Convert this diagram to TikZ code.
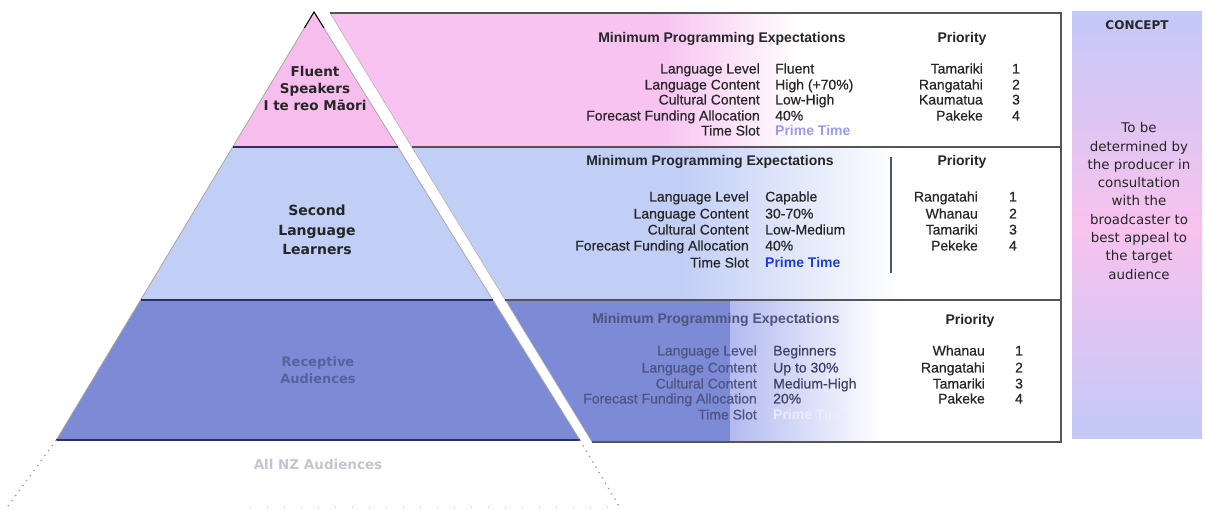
\documentclass[tikz,border=0pt]{standalone}
\usepackage{fontspec}
\setmainfont{Liberation Sans}
\newfontfamily\dejavu{DejaVu Sans}
\newfontfamily\panelfont[FakeBold=0.5]{Liberation Sans}
\definecolor{pinkP}{HTML}{F7BDEC}
\definecolor{pinkL}{HTML}{F8C2F1}
\definecolor{blueM}{HTML}{C1CEF6}
\definecolor{blueD}{HTML}{7D8AD5}
\definecolor{blueDL}{HTML}{B3BAF0}
\definecolor{navy}{HTML}{2B3060}
\definecolor{bord}{HTML}{555555}
\definecolor{txt}{HTML}{262626}
\definecolor{txtB}{HTML}{4E5380}
\definecolor{conceptB}{HTML}{C3C9F8}
\definecolor{conceptP}{HTML}{F8C2EE}
\definecolor{primeA}{HTML}{9A9AEE}
\definecolor{primeB}{HTML}{1E3FD0}
\definecolor{primeC}{HTML}{ECECFF}
\begin{document}
\begin{tikzpicture}[x=1pt,y=-1pt,
  every node/.style={inner sep=0pt, text height=10pt, text depth=3pt},
  lab/.style={anchor=east, font=\panelfont\fontsize{14}{16}\selectfont, text=txt},
  val/.style={anchor=west, font=\panelfont\fontsize{14}{16}\selectfont, text=txt},
  hd/.style={font=\bfseries\fontsize{14}{16}\selectfont, text=txt},
  num/.style={font=\panelfont\fontsize{14}{16}\selectfont, text=txt},
  pyr/.style={align=center, text height=, text depth=, font=\dejavu\bfseries\fontsize{13.5}{17}\selectfont, text=txt},
  panelborder/.style={draw=bord, line width=1.3pt},
  sep/.style={draw=navy, line width=1.8pt},
  guide/.style={draw=gray!80, line width=1.4pt, dash pattern=on 1.2pt off 5pt}]
\useasboundingbox (0,0) rectangle (1205,510);
% --- geometry
\coordinate (apex) at (314,12);
\coordinate (l1) at (232.7,147); \coordinate (r1) at (397.8,147);
\coordinate (l2) at (140.6,300); \coordinate (r2) at (492.8,300);
\coordinate (l3) at (56.3,440);  \coordinate (r3) at (579.8,440);
\coordinate (p0) at (330,13);   \coordinate (p1) at (411.9,147);
\coordinate (p2) at (505.4,300);\coordinate (p3) at (592,442);
\coordinate (q0) at (1061,13);  \coordinate (q1) at (1061,147);
\coordinate (q2) at (1061,300); \coordinate (q3) at (1061,442);
% --- pyramid
\fill[pinkP] (apex) -- (r1) -- (l1) -- cycle;
\fill[blueM] (l1) -- (r1) -- (r2) -- (l2) -- cycle;
\fill[blueD] (l2) -- (r2) -- (r3) -- (l3) -- cycle;
\draw[gray!70, line width=0.8pt] (l3) -- (apex) -- (r3);
\draw[black, line width=1pt] (304.4,28) -- (apex) -- (324,28);
\draw[sep] (l1) -- (r1);
\draw[sep] (l2) -- (r2);
\draw[sep] (l3) -- (r3);
% --- panels
\begin{scope}
  \clip (p0) -- (q0) -- (q1) -- (p1) -- cycle;
  \fill[pinkL] (300,0) rectangle (660,150);
  \shade[left color=pinkL, right color=white] (660,0) rectangle (800,150);
  \fill[white] (800,0) rectangle (1070,150);
\end{scope}
\begin{scope}
  \clip (p1) -- (q1) -- (q2) -- (p2) -- cycle;
  \fill[blueM] (380,140) rectangle (680,305);
  \shade[left color=blueM, right color=white] (680,140) rectangle (900,305);
  \fill[white] (900,140) rectangle (1070,305);
\end{scope}
\begin{scope}
  \clip (p2) -- (q2) -- (q3) -- (p3) -- cycle;
  \fill[blueD] (480,295) rectangle (730,450);
  \shade[left color=blueDL, right color=white] (730,295) rectangle (880,450);
  \fill[white] (880,295) rectangle (1070,450);
\end{scope}
\draw[gray!60, line width=0.6pt] (p0) -- (p3);
\draw[panelborder] (p0) -- (q0) -- (q3) -- (p3);
\draw[panelborder] (p1) -- (q1);
\draw[panelborder] (p2) -- (q2);
\draw[bord, line width=1.6pt] (891,157) -- (891,273);
% --- concept column
\shade[top color=conceptB, bottom color=conceptB, middle color=conceptP] (1072,12) rectangle (1202,439);
\node[font=\dejavu\bfseries\fontsize{12}{14}\selectfont, text=txt] (concept) at (1137,26) {CONCEPT};
\node[align=center, text height=, text depth=, font=\dejavu\fontsize{13.4}{18.3}\selectfont, text=txt] (conceptbody) at (1139,201)
  {To be\\determined by\\the producer in\\consultation\\with the\\broadcaster to\\best appeal to\\the target\\audience};
% --- pyramid labels
\node[pyr] (fluent) at (315,88) {Fluent\\Speakers\\I te reo Māori};
\node[pyr, font=\dejavu\bfseries\fontsize{14}{19.5}\selectfont] (second) at (317,230) {Second\\Language\\Learners};
\node[pyr, font=\dejavu\bfseries\fontsize{13}{16.5}\selectfont, text={rgb,255:red,88;green,97;blue,160}] (receptive) at (318,370) {Receptive\\Audiences};
\node[pyr, font=\dejavu\bfseries\fontsize{13.5}{16}\selectfont, text={rgb,255:red,196;green,197;blue,210}] (allnz) at (318,464) {All NZ Audiences};
% --- dotted guides
\coordinate (dl) at (8,506);
\coordinate (dr) at (619,506);
\draw[guide] (l3) -- (dl);
\draw[guide] (r3) -- (dr);
\coordinate (db0) at (250,507);
\coordinate (db1) at (612,507);
\draw[gray!55, line width=0.9pt, dash pattern=on 1pt off 16pt] (db0) -- (db1);
% --- top panel text
\node[hd] (h1) at (722,39) {Minimum Programming Expectations};
\node[hd] (pr1) at (962,39) {Priority};
\foreach \l/\v/\y [count=\i] in {Language Level/Fluent/70, Language Content/High (+70\%)/86, Cultural Content/Low-High/101, Forecast Funding Allocation/40\%/117}
  {\node[lab] (tl\i) at (760,\y) {\l}; \node[val] (tv\i) at (775,\y) {\v};}
\node[lab] (tl5) at (760,132) {Time Slot};
\node[val, text=primeA, font=\bfseries\fontsize{14}{16}\selectfont] (tv5) at (775,132) {Prime Time};
\foreach \n/\y [count=\i] in {Tamariki/70, Rangatahi/86, Kaumatua/101, Pakeke/117}
  {\node[lab] (tp\i) at (983,\y) {\n}; \node[num] (tn\i) at (1016,\y) {\i};}
% --- middle panel text
\node[hd] (h2) at (710,162) {Minimum Programming Expectations};
\node[hd] (pr2) at (962,162) {Priority};
\foreach \l/\v/\y [count=\i] in {Language Level/Capable/198, Language Content/30-70\%/215, Cultural Content/Low-Medium/231, Forecast Funding Allocation/40\%/247}
  {\node[lab] (ml\i) at (749,\y) {\l}; \node[val] (mv\i) at (765,\y) {\v};}
\node[lab] (ml5) at (749,264) {Time Slot};
\node[val, text=primeB, font=\bfseries\fontsize{14}{16}\selectfont] (mv5) at (765,264) {Prime Time};
\foreach \n/\y [count=\i] in {Rangatahi/198, Whanau/215, Tamariki/231, Pekeke/247}
  {\node[lab] (mp\i) at (978,\y) {\n}; \node[num] (mn\i) at (1013,\y) {\i};}
% --- bottom panel text
\node[hd, text=txtB] (h3) at (716,320) {Minimum Programming Expectations};
\node[hd] (pr3) at (970,321) {Priority};
\foreach \l/\v/\y [count=\i] in {Language Level/Beginners/352, Language Content/Up to 30\%/369, Cultural Content/Medium-High/385, Forecast Funding Allocation/20\%/400}
  {\node[lab, text=txtB] (bl\i) at (757,\y) {\l}; \node[val, text=txtB!80!black] (bv\i) at (773,\y) {\v};}
\node[lab, text=txtB] (bl5) at (757,416) {Time Slot};
\node[val, text=primeC, font=\bfseries\fontsize{14}{16}\selectfont] (bv5) at (773,416) {Prime Time};
\foreach \n/\y [count=\i] in {Whanau/352, Rangatahi/369, Tamariki/385, Pakeke/400}
  {\node[lab] (bp\i) at (985,\y) {\n}; \node[num] (bn\i) at (1019,\y) {\i};}
\end{tikzpicture}
\end{document}
